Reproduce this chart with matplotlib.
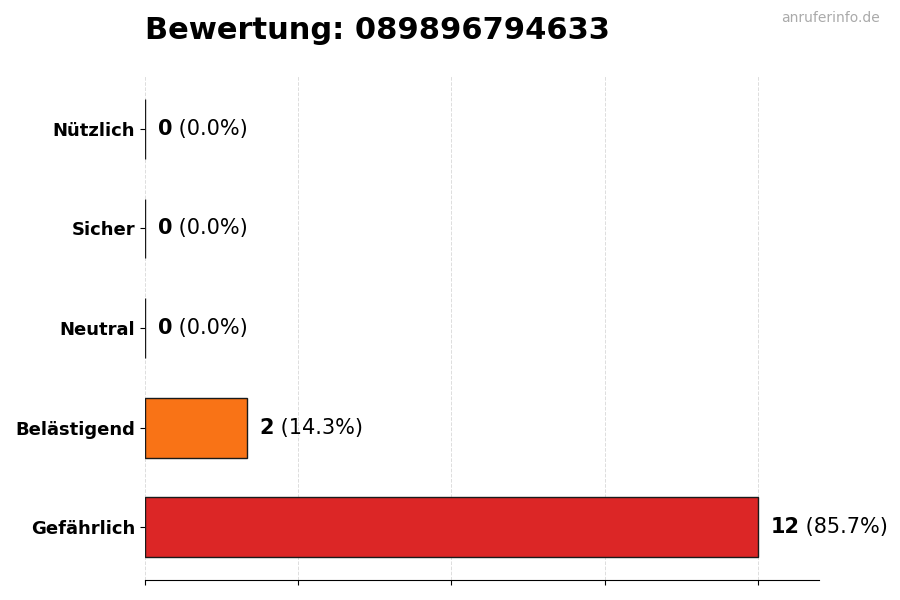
import matplotlib.pyplot as plt

categories = ['Gefährlich', 'Belästigend', 'Neutral', 'Sicher', 'Nützlich']
counts = [12, 2, 0, 0, 0]
percents = [85.7, 14.3, 0.0, 0.0, 0.0]
colors = ['#dc2626', '#f97316', '#9ca3af', '#3b82f6', '#22c55e']
xticks = [0, 3, 6, 9, 12]
phone = '089896794633'

fig = plt.figure(figsize=(9, 6), dpi=100)
ax = fig.add_axes([0.161, 0.0333, 0.749, 0.84])

ax.barh(categories, counts, height=0.6, color=colors, edgecolor='#1a1a1a', linewidth=1, zorder=3)
ax.set_xlim(0, max(counts) * 1.1)
ax.set_xticks(xticks)
ax.set_xticklabels([])
ax.grid(axis='x', linestyle='--', color='#dddddd', linewidth=0.7, zorder=0)

for spine in ['left', 'top', 'right']:
    ax.spines[spine].set_visible(False)

for lbl in ax.get_yticklabels():
    lbl.set_fontweight('bold')
    lbl.set_fontsize(13)

for i, (c, p) in enumerate(zip(counts, percents)):
    t = ax.text(c + 0.25, i, str(c), fontsize=15, fontweight='bold', va='center', ha='left')
    ax.annotate(' (%.1f%%)' % p, xy=(1, 0.5), xycoords=t, va='center', ha='left', fontsize=15)

ax.text(0, 1.09, 'Bewertung: ' + phone, transform=ax.transAxes, fontsize=22,
        fontweight='bold', ha='left', va='center')
fig.text(0.978, 0.97, 'anruferinfo.de', color='#aaaaaa', fontsize=10, ha='right', va='center')

fig.savefig('out.png', dpi=100)
